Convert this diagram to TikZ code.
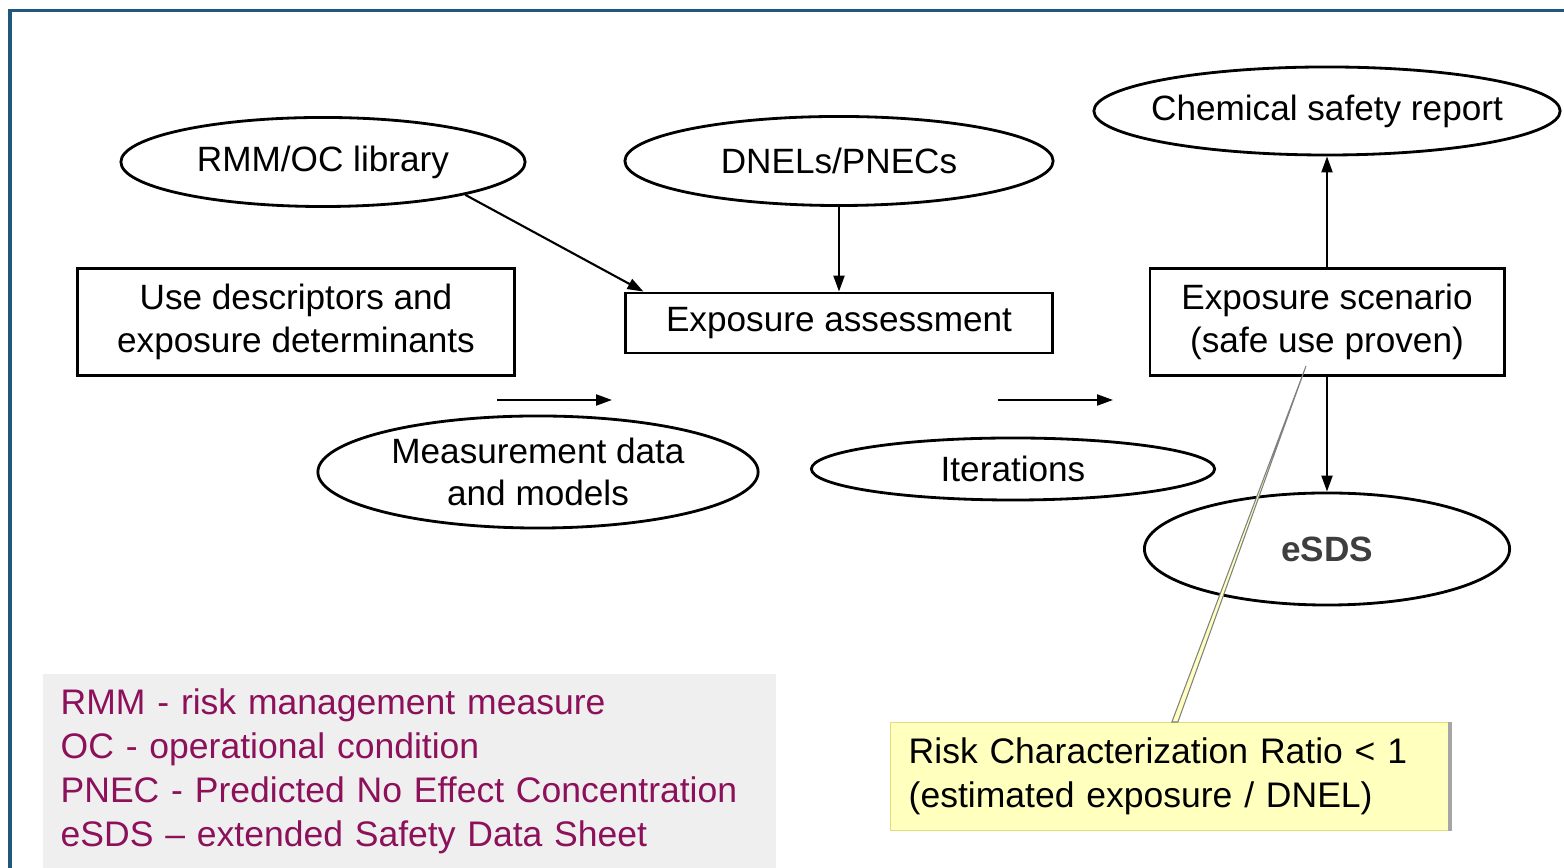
\documentclass[tikz,border=0pt]{standalone}
\usepackage{fontspec}
\setmainfont{Liberation Sans}
\usetikzlibrary{shapes.geometric, arrows.meta, positioning}
\definecolor{framecol}{RGB}{32,88,125}
\definecolor{legendtxt}{RGB}{140,16,90}
\definecolor{legendbg}{RGB}{239,239,239}
\definecolor{noteyellow}{RGB}{255,255,190}
\definecolor{noteedge}{RGB}{228,222,120}
\definecolor{esdsgray}{RGB}{62,62,62}
\tikzset{
    oval/.style={ellipse, draw, line width=0.8pt, inner sep=0pt, align=center,
                 font=\fontsize{10}{12}\selectfont},
    stepbox/.style={rectangle, draw, line width=0.8pt, inner sep=0pt, align=center,
                    font=\fontsize{10}{12}\selectfont},
    arrow/.style={-{Triangle[length=1.6mm, width=1.1mm]}, line width=0.6pt},
    legendbox/.style={rectangle, fill=legendbg, anchor=north west, text width=6.97cm,
                      inner xsep=0.18cm, minimum height=1.95cm, align=left,
                      text=legendtxt, font=\fontsize{10.1}{12.5}\selectfont},
    notebox/.style={rectangle, fill=noteyellow, draw=noteedge, line width=0.4pt,
                    anchor=north west, text width=5.22cm, inner xsep=0.18cm,
                    minimum height=1.08cm, align=left, font=\fontsize{10.1}{12.5}\selectfont},
}

\begin{document}
\begin{tikzpicture}[x=0.01cm, y=-0.01cm]
    \useasboundingbox (0,0) rectangle (1564,868);

    % ── Frame ──────────────────────────────────────────────────────
    \draw[framecol, line width=0.03cm] (1564,11) -- (10,11) -- (10,868);

    % ── Inputs ─────────────────────────────────────────────────────
    \node[oval, minimum width=4.04cm, minimum height=0.89cm] (rmm)  at (323,162) {RMM/OC library};
    \node[oval, minimum width=4.28cm, minimum height=0.89cm] (dnel) at (839,161) {DNELs/PNECs};
    \node[stepbox, minimum width=4.37cm, minimum height=1.07cm] (usedesc) at (296,322)
        {Use descriptors and\\exposure determinants};
    \node[oval, minimum width=4.40cm, minimum height=1.12cm] (measure) at (538,472)
        {Measurement data\\and models};

    % ── Assessment ─────────────────────────────────────────────────
    \node[stepbox, minimum width=4.26cm, minimum height=0.60cm] (expassess) at (839,323)
        {Exposure assessment};
    \node[oval, minimum width=4.03cm, minimum height=0.62cm] (iter) at (1013,469) {Iterations};

    % ── Outputs ────────────────────────────────────────────────────
    \node[stepbox, minimum width=3.54cm, minimum height=1.07cm] (expscen) at (1327,322)
        {Exposure scenario\\(safe use proven)};
    \node[oval, minimum width=4.66cm, minimum height=0.88cm] (csr)  at (1327,111)
        {\makebox[0pt]{Chemical safety report}};
    \node[oval, minimum width=3.65cm, minimum height=1.12cm] (esds) at (1327,549)
        {\bfseries\color{esdsgray}eSDS};

    % ── Flows ──────────────────────────────────────────────────────
    \draw[arrow] (rmm.-13) -- ([xshift=0.19cm]expassess.north west);
    \draw[arrow] (dnel.south) -- (expassess.north);
    \draw[arrow] (expscen.north) -- (csr.south);
    \draw[arrow] (expscen.south) -- (esds.north);

    \coordinate (flowa) at (497,400);
    \coordinate (flowb) at (612,400);
    \coordinate (flowc) at (998,400);
    \coordinate (flowd) at (1113,400);
    \draw[arrow] (flowa) -- (flowb);
    \draw[arrow] (flowc) -- (flowd);

    % ── Legend ─────────────────────────────────────────────────────
    \node[legendbox] (legend) at (42,673)
        {RMM - risk management measure\\
         OC - operational condition\\
         PNEC - Predicted No Effect Concentration\\
         eSDS -- extended Safety Data Sheet};

    % ── Callout ────────────────────────────────────────────────────
    \node[notebox] (rcr) at (890,722)
        {Risk Characterization Ratio < 1\\(estimated exposure / DNEL)};
    \coordinate (tip) at (1306,366);
    \filldraw[fill=noteyellow, draw=gray, line width=0.3pt]
        ([xshift=0.02cm]rcr.north) -- (tip) -- ([xshift=0.08cm]rcr.north) -- cycle;
    \draw[gray!70, line width=0.04cm] (rcr.north east) -- (rcr.south east);

\end{tikzpicture}
\end{document}
